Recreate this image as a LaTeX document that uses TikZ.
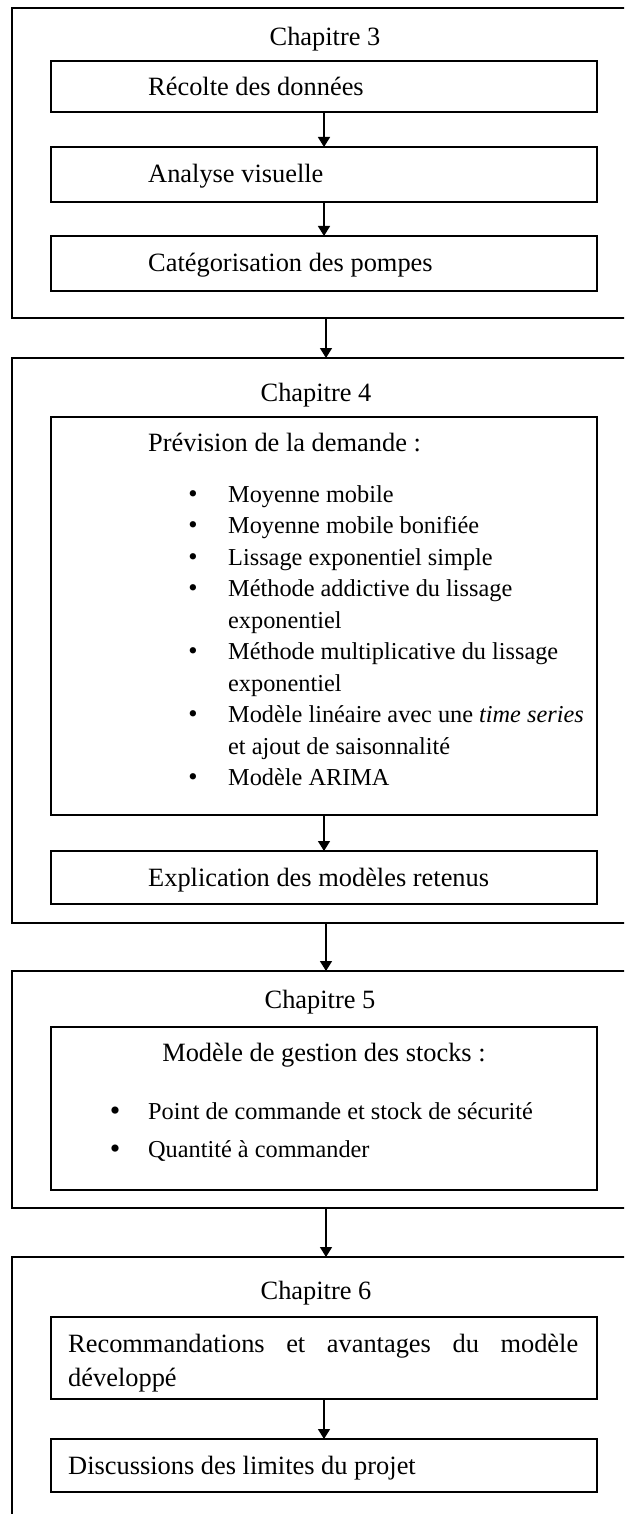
\documentclass[tikz,border=0pt]{standalone}
\usepackage{fontspec}
\setmainfont{Liberation Serif}
\usetikzlibrary{arrows.meta}
\newcommand\fsz{\fontsize{26.4pt}{33pt}\selectfont}
\newcommand\lsz{\fontsize{24.3pt}{31.5pt}\selectfont}
\newcommand\bigbul{\fontsize{30pt}{31.5pt}\selectfont}
\begin{document}
\begin{tikzpicture}[x=1pt,y=-1pt,
  outerbox/.style={draw, line width=2pt, inner sep=0pt, outer sep=0pt, minimum width=628pt},
  inbox/.style={draw, line width=1.8pt, inner sep=0pt, outer sep=0pt, minimum width=546pt},
  txt/.style={anchor=base west, inner sep=0pt, font=\fsz},
  ltxt/.style={anchor=base west, inner sep=0pt, font=\lsz},
  ctxt/.style={anchor=base, inner sep=0pt, font=\fsz},
  bul/.style={anchor=base, inner sep=0pt, font=\fsz},
  bbul/.style={anchor=base, inner sep=0pt, font=\bigbul},
  arr/.style={line width=1.5pt, -{Triangle[length=10pt,width=12pt]}}]
\useasboundingbox (0,0) rectangle (624,1514);
\clip (0,0) rectangle (624,1514);

% Chapitre 3
\node[outerbox, minimum height=310pt] (o1) at (326,163) {};
\node[ctxt] (t3) at (325,46) {Chapitre 3};
\node[inbox, minimum height=51pt] (b1) at (324,86.5) {};
\node[txt] (b1t) at (148,96) {Récolte des données};
\node[inbox, minimum height=55pt] (b2) at (324,174.5) {};
\node[txt] (b2t) at (148,183) {Analyse visuelle};
\node[inbox, minimum height=55pt] (b3) at (324,263.5) {};
\node[txt] (b3t) at (148,272) {Catégorisation des pompes};
\draw[arr] (b1.south) -- (b2.north);
\draw[arr] (b2.south) -- (b3.north);

% Chapitre 4
\node[outerbox, minimum height=565pt] (o2) at (326,640.5) {};
\node[ctxt] (t4) at (316,401) {Chapitre 4};
\node[inbox, minimum height=398pt] (b4) at (324,616) {};
\node[txt] (b4t) at (148,451) {Prévision de la demande :};
\foreach \y/\s/\b in {502/Moyenne mobile/1,
                      533.5/Moyenne mobile bonifiée/1,
                      565/Lissage exponentiel simple/1,
                      596.5/Méthode addictive du lissage/1,
                      628/exponentiel/0,
                      659.5/Méthode multiplicative du lissage/1,
                      691/exponentiel/0,
                      722.5/{Modèle linéaire avec une \textit{time series}}/1,
                      754/et ajout de saisonnalité/0,
                      785.5/Modèle ARIMA/1}{
  \node[ltxt] at (228,\y) {\s};
  \ifnum\b=1 \node[bul] at (193,\y) {•};\fi
}
\node[inbox, minimum height=53pt] (b5) at (324,877.5) {};
\node[txt] (b5t) at (148,886.5) {Explication des modèles retenus};
\draw[arr] (b4.south) -- (b5.north);

% Chapitre 5
\node[outerbox, minimum height=237pt] (o3) at (326,1089.5) {};
\node[ctxt] (t5) at (320,1008) {Chapitre 5};
\node[inbox, minimum height=163pt] (b6) at (324,1108.5) {};
\node[ctxt] (b6t) at (324,1061) {Modèle de gestion des stocks :};
\node[bbul] at (115,1120) {•};
\node[ltxt] at (148,1119) {Point de commande et stock de sécurité};
\node[bbul] at (115,1158) {•};
\node[ltxt] at (148,1157) {Quantité à commander};

% Chapitre 6
\node[outerbox, minimum height=273pt] (o4) at (326,1393.5) {};
\node[ctxt] (t6) at (316,1299) {Chapitre 6};
\node[inbox, minimum height=82pt] (b7) at (324,1358) {};
\node[txt] (b7a) at (68,1352) {\makebox[510pt][s]{Recommandations et avantages du modèle}};
\node[txt] (b7b) at (68,1386) {développé};
\node[inbox, minimum height=53pt] (b8) at (324,1465.5) {};
\node[txt] (b8t) at (68,1474) {Discussions des limites du projet};
\draw[arr] (b7.south) -- (b8.north);

% between chapters
\draw[arr] (o1.south) -- (o2.north);
\draw[arr] (o2.south) -- (o3.north);
\draw[arr] (o3.south) -- (o4.north);
\end{tikzpicture}
\end{document}
